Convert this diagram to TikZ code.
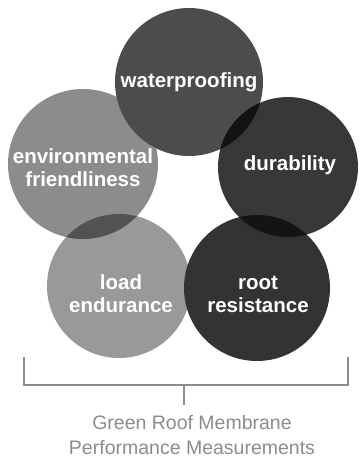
\documentclass[tikz,border=0pt]{standalone}
\usepackage{fontspec}
\setmainfont{Liberation Sans}
\begin{document}
\begin{tikzpicture}[x=1pt,y=-1pt,
  lbl/.style={text=white,font=\fontsize{20.5}{23}\selectfont\bfseries,align=center},
  captext/.style={text=black!45,font=\fontsize{19.5}{25}\selectfont,align=center},
  brk/.style={draw=black!45,line width=1.1pt}]
\useasboundingbox (0,0) rectangle (361,463);
\def\Wc{(189,82) circle (74)}
\def\Ec{(83,164) circle (75)}
\def\Dc{(288,167) circle (70)}
\def\Lc{(119,286) circle (72)}
\def\Rc{(257,288) circle (73)}
% circles
\fill[black!45] \Ec;
\fill[black!70] \Wc;
\fill[black!40] \Lc;
\fill[black!78] \Dc;
\fill[black!80] \Rc;
% darker overlaps
\begin{scope}\clip \Wc; \fill[black!93] \Dc; \end{scope}
\begin{scope}\clip \Ec; \fill[black!68] \Lc; \end{scope}
\begin{scope}\clip \Dc; \fill[black!92] \Rc; \end{scope}
% labels
\node[lbl] (w) at (189,82) {waterproofing};
\node[lbl] (e) at (83,168) {environmental\\friendliness};
\node[lbl] (d) at (290,165) {durability};
\node[lbl] (l) at (121,294) {load\\endurance};
\node[lbl] (r) at (258,294) {root\\resistance};
% bracket
\coordinate (bl) at (24,357);
\coordinate (br) at (348,357);
\coordinate (bm) at (184,385);
\coordinate (bt) at (184,405);
\draw[brk] (bl) |- (bm) -| (br);
\draw[brk] (bm) -- (bt);
\node[captext] (c) at (192,435) {Green Roof Membrane\\Performance Measurements};
\end{tikzpicture}
\end{document}
